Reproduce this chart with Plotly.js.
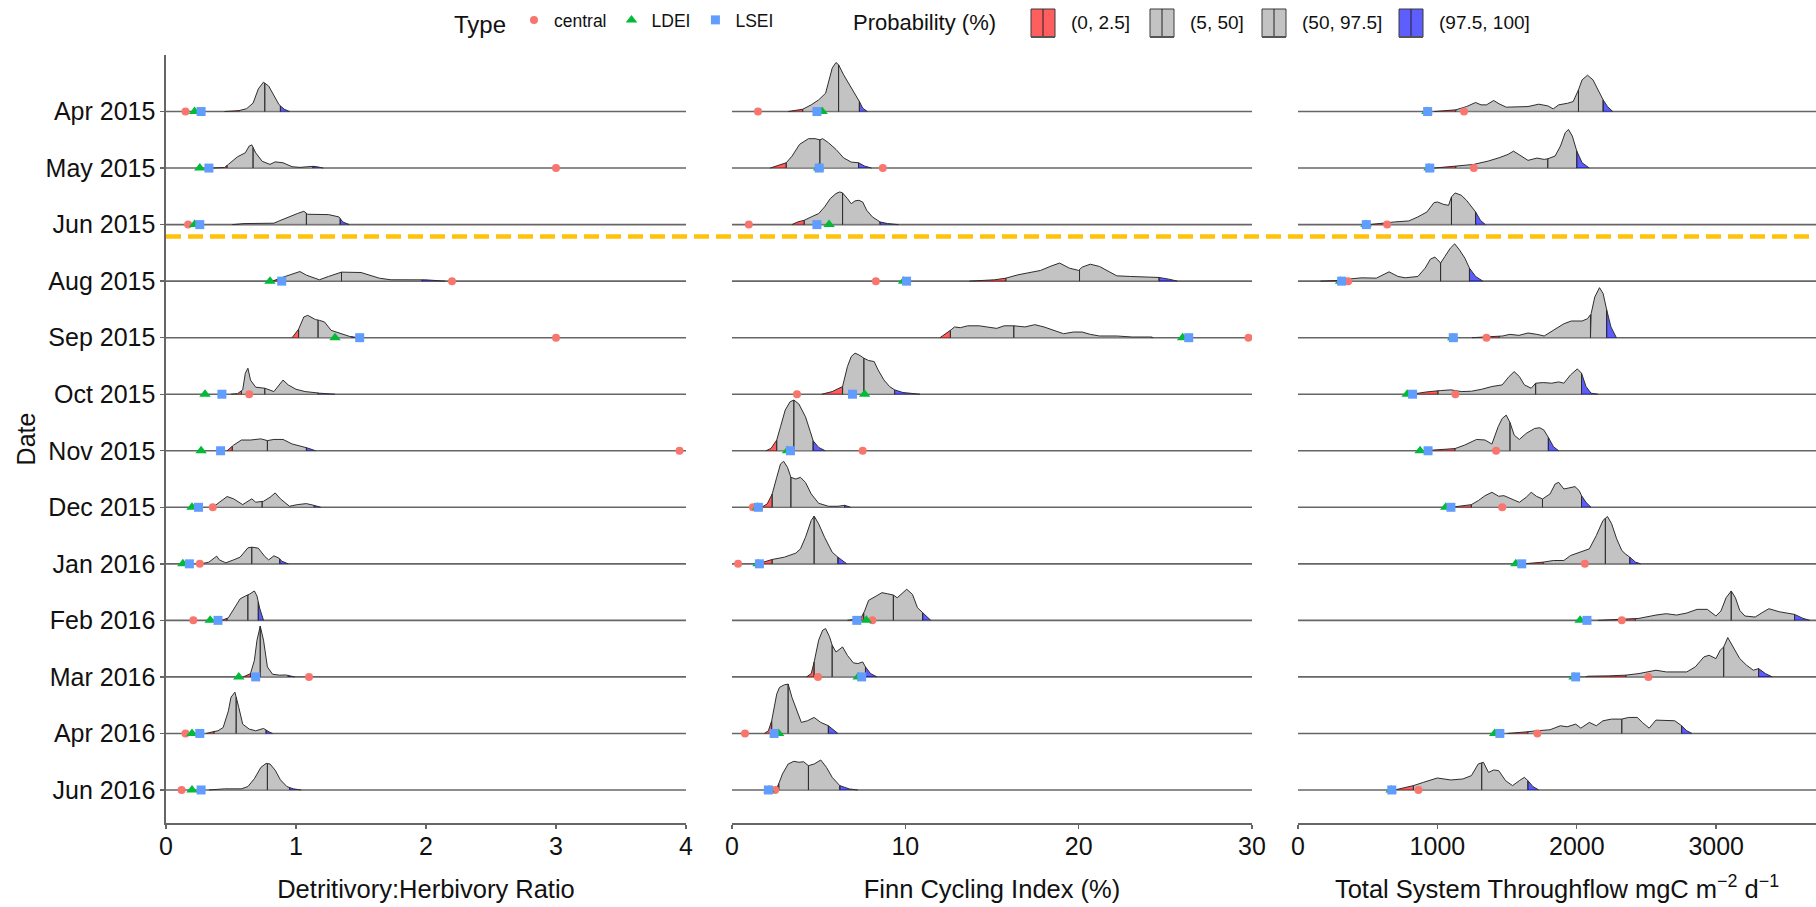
<!DOCTYPE html>
<html><head><meta charset="utf-8">
<script src="https://cdn.plot.ly/plotly-3.0.1.min.js"></script>
<style>html,body{margin:0;padding:0;background:#fff}</style>
</head><body><div id="chart" style="width:1816px;height:907px"></div>
<script>
// ---------- categories ----------
const dates = ['Apr 2015','May 2015','Jun 2015','Aug 2015','Sep 2015','Oct 2015','Nov 2015','Dec 2015','Jan 2016','Feb 2016','Mar 2016','Apr 2016','Jun 2016'];
const typeNames = ['central','LDEI','LSEI'];
const probNames = ['(0, 2.5]','(5, 50]','(50, 97.5]','(97.5, 100]'];
const gapLineY = 9.79; // sampling gap (no Jul 2015)

// ---------- Detritivory:Herbivory Ratio ----------
const dhrCentral = [0.15,3.0,0.17,2.2,3.0,0.64,3.95,0.36,0.26,0.21,1.10,0.15,0.12];
const dhrLDEI    = [0.22,0.26,0.22,0.80,1.30,0.30,0.27,0.20,0.13,0.34,0.56,0.20,0.20];
const dhrLSEI    = [0.27,0.33,0.26,0.89,1.49,0.43,0.42,0.25,0.18,0.40,0.69,0.26,0.27];
const dhrQuant = [[0.56,0.76,0.88],[0.47,0.67,1.13],[0.56,1.08,1.34],[0.86,1.35,1.97],[1.02,1.17,1.43],[0.58,0.76,1.17],[0.51,0.78,1.08],[0.38,0.74,1.14],[0.29,0.66,0.875],[0.47,0.63,0.71],[0.65,0.725,0.94],[0.37,0.54,0.77],[0.36,0.78,0.95]];
const dhrDensX = [
 [0.45,0.55,0.62,0.67,0.71,0.75,0.79,0.83,0.87,0.91,0.95],
 [0.35,0.45,0.48,0.55,0.61,0.64,0.66,0.69,0.74,0.80,0.84,0.90,0.97,1.03,1.11,1.16,1.21],
 [0.51,0.60,0.70,0.83,0.87,0.94,1.01,1.06,1.09,1.18,1.25,1.33,1.36,1.41],
 [0.80,0.83,0.90,0.97,1.03,1.08,1.18,1.25,1.34,1.50,1.57,1.64,1.73,1.90,1.99,2.11,2.15],
 [0.97,1.02,1.06,1.09,1.15,1.18,1.22,1.27,1.34,1.41,1.48],
 [0.50,0.55,0.59,0.61,0.63,0.65,0.69,0.76,0.83,0.87,0.90,0.94,1.00,1.07,1.15,1.18,1.30],
 [0.47,0.52,0.58,0.65,0.73,0.78,0.83,0.90,0.97,1.04,1.10,1.15],
 [0.36,0.40,0.47,0.52,0.59,0.66,0.69,0.75,0.80,0.84,0.88,0.95,1.01,1.08,1.13,1.19],
 [0.27,0.33,0.36,0.39,0.41,0.46,0.52,0.57,0.63,0.66,0.71,0.76,0.79,0.83,0.87,0.89,0.94],
 [0.43,0.48,0.53,0.57,0.61,0.64,0.68,0.70,0.72,0.75],
 [0.595,0.65,0.68,0.70,0.725,0.75,0.78,0.82,0.875,0.92,0.99],
 [0.31,0.36,0.40,0.44,0.48,0.50,0.53,0.56,0.59,0.64,0.69,0.75,0.80,0.82],
 [0.33,0.45,0.58,0.63,0.68,0.73,0.77,0.80,0.84,0.88,0.93,0.98,1.04]
];
const dhrDensH = [
 [0,0.01,0.05,0.15,0.40,0.52,0.45,0.28,0.12,0.04,0],
 [0,0.01,0.065,0.20,0.27,0.39,0.41,0.27,0.12,0.065,0.11,0.094,0.024,0.012,0.035,0.024,0],
 [0,0.018,0.018,0.025,0.065,0.136,0.195,0.236,0.183,0.177,0.177,0.136,0.047,0],
 [0,0.01,0.07,0.13,0.17,0.106,0.024,0.083,0.16,0.153,0.106,0.053,0.024,0.018,0.024,0.006,0],
 [0,0.15,0.366,0.395,0.32,0.307,0.277,0.13,0.07,0.024,0],
 [0,0.01,0.077,0.37,0.46,0.25,0.124,0.106,0.047,0.165,0.25,0.165,0.088,0.047,0.03,0.018,0],
 [0,0.10,0.19,0.19,0.21,0.18,0.20,0.20,0.12,0.083,0.04,0],
 [0,0.07,0.19,0.15,0.047,0.15,0.09,0.106,0.177,0.254,0.15,0.018,0.047,0.065,0.04,0],
 [0,0.03,0.09,0.136,0.07,0.018,0.07,0.118,0.283,0.295,0.277,0.13,0.07,0.142,0.10,0.047,0],
 [0,0.047,0.22,0.38,0.43,0.46,0.52,0.43,0.22,0],
 [0,0.059,0.295,0.65,0.897,0.65,0.177,0.047,0.03,0.035,0],
 [0,0.03,0.047,0.106,0.40,0.64,0.73,0.46,0.165,0.077,0.047,0.088,0.018,0],
 [0,0.02,0.02,0.06,0.2,0.4,0.47,0.46,0.35,0.18,0.06,0.02,0]
];

// ---------- Finn Cycling Index (%) ----------
const fciCentral = [1.5,8.7,0.97,8.3,29.8,3.75,7.54,1.21,0.35,8.1,4.96,0.75,2.49];
const fciLDEI    = [5.2,5.0,5.6,9.9,26.0,7.65,3.2,1.48,1.5,7.75,7.28,2.69,2.14];
const fciLSEI    = [4.9,5.03,4.9,10.07,26.35,6.95,3.37,1.52,1.58,7.2,7.48,2.43,2.1];
const fciQuant = [[4.08,6.15,7.35],[3.13,5.07,7.30],[4.17,6.38,8.54],[15.8,20.05,24.64],[12.6,16.26,24.2],[6.38,7.61,9.38],[2.58,3.57,4.68],[2.32,3.4,6.5],[2.32,4.74,6.11],[7.6,9.31,11.0],[4.74,5.78,7.7],[2.29,3.24,5.56],[2.7,4.41,6.22]];
const fciDensX = [
 [3.24,4.08,4.57,5.0,5.4,5.56,5.78,6.0,6.15,6.44,6.77,7.10,7.35,7.54,7.81],
 [2.2,2.58,3.13,3.46,3.9,4.41,4.79,5.07,5.23,5.56,6.0,6.44,6.88,7.30,7.65,8.05],
 [3.46,3.79,4.17,4.57,5.0,5.34,5.67,6.0,6.22,6.38,6.66,6.88,7.10,7.32,7.54,7.77,8.10,8.54,8.98,9.6],
 [13.7,14.5,15.15,15.8,16.5,17.1,17.8,18.35,18.9,19.46,20.0,20.2,20.67,21.2,21.77,22.2,23.0,23.76,24.64,25.2,25.7],
 [12.0,12.6,12.84,13.17,13.6,14.27,14.7,15.27,15.7,16.26,16.9,17.47,18.0,18.6,19.13,19.7,20.2,20.67,21.2,22.2,23.1,24.2,24.3],
 [5.18,5.78,6.38,6.66,6.88,7.10,7.32,7.61,7.88,8.2,8.43,8.76,9.09,9.38,9.86,10.85],
 [1.96,2.25,2.58,2.8,3.07,3.35,3.57,3.86,4.24,4.52,4.68,5.0,5.38],
 [1.7,2.03,2.32,2.58,2.8,2.98,3.2,3.4,3.68,3.95,4.24,4.57,5.0,5.56,6.11,6.5,6.84],
 [1.48,1.81,2.32,3.02,3.68,3.95,4.24,4.57,4.74,5.0,5.34,5.78,6.11,6.62],
 [6.66,7.0,7.43,7.65,7.88,8.32,8.65,8.98,9.31,9.53,9.75,10.08,10.41,10.7,11.0,11.47],
 [4.3,4.57,4.74,5.0,5.23,5.4,5.63,5.78,6.0,6.15,6.38,6.66,7.0,7.26,7.54,7.7,7.99,8.36],
 [1.87,2.1,2.29,2.58,2.74,3.02,3.24,3.46,3.79,4.0,4.35,4.74,5.12,5.56,6.11],
 [1.92,2.54,2.69,2.91,3.24,3.57,3.86,4.13,4.41,4.74,5.12,5.45,5.78,6.22,6.77,7.26]
];
const fciDensH = [
 [0,0.041,0.118,0.206,0.324,0.50,0.767,0.867,0.826,0.649,0.472,0.295,0.177,0.059,0],
 [0,0.035,0.094,0.21,0.42,0.52,0.52,0.50,0.52,0.45,0.33,0.18,0.106,0.094,0.035,0],
 [0,0.047,0.077,0.136,0.195,0.313,0.46,0.55,0.578,0.56,0.46,0.37,0.42,0.43,0.40,0.254,0.136,0.047,0.018,0],
 [0,0.012,0.024,0.053,0.112,0.142,0.189,0.26,0.32,0.23,0.19,0.248,0.30,0.26,0.17,0.094,0.083,0.071,0.065,0.035,0],
 [0,0.13,0.19,0.177,0.21,0.21,0.19,0.165,0.21,0.21,0.19,0.23,0.19,0.13,0.07,0.10,0.10,0.059,0.03,0.03,0.012,0.012,0],
 [0,0.047,0.136,0.49,0.667,0.726,0.696,0.637,0.596,0.578,0.43,0.254,0.136,0.077,0.03,0],
 [0,0.041,0.19,0.425,0.72,0.867,0.897,0.826,0.60,0.336,0.177,0.059,0],
 [0,0.059,0.236,0.53,0.767,0.814,0.708,0.53,0.50,0.53,0.44,0.236,0.071,0.018,0.018,0.035,0],
 [0,0.03,0.077,0.118,0.189,0.265,0.47,0.767,0.844,0.708,0.47,0.206,0.118,0],
 [0,0.012,0.035,0.165,0.354,0.43,0.49,0.47,0.448,0.40,0.46,0.55,0.46,0.224,0.136,0],
 [0,0.059,0.265,0.65,0.826,0.855,0.708,0.56,0.44,0.47,0.53,0.38,0.248,0.236,0.265,0.177,0.059,0],
 [0,0.047,0.224,0.696,0.814,0.86,0.873,0.637,0.342,0.195,0.224,0.283,0.195,0.136,0],
 [0,0.01,0.106,0.283,0.46,0.507,0.49,0.50,0.43,0.46,0.53,0.40,0.224,0.077,0.018,0]
];

// ---------- Total System Throughflow ----------
const tstCentral = [1191,1261,640,360,1352,1129,1421,1465,2058,2323,2514,1717,864];
const tstLDEI    = [925,940,488,305,1110,783,876,1060,1563,2024,1980,1411,668];
const tstLSEI    = [930,945,490,313,1114,822,933,1097,1605,2073,1992,1448,673];
const tstQuant = [[1132,2012,2189],[1132,1792,2000],[640,1101,1274],[290,1023,1230],[1443,2098,2214],[1004,1705,2034],[1126,1521,1796],[1244,1754,2034],[1759,2205,2380],[2420,3108,3562],[2353,3054,3304],[1649,2323,2752],[828,1318,1649]];
const tstDensX = [
 [976,1132,1209,1274,1313,1352,1404,1443,1494,1572,1650,1727,1792,1831,1870,1935,1974,2012,2038,2077,2116,2155,2189,2220,2258],
 [976,1054,1132,1261,1365,1443,1507,1546,1585,1650,1714,1766,1792,1844,1883,1917,1940,1968,2000,2038,2090],
 [510,588,692,795,860,925,976,1002,1041,1080,1101,1127,1171,1209,1248,1274,1308,1344],
 [161,290,355,458,562,653,717,769,860,912,950,982,1002,1023,1054,1093,1124,1158,1197,1230,1274,1326],
 [1248,1339,1468,1520,1585,1650,1714,1766,1831,1909,1961,2038,2077,2103,2129,2163,2189,2214,2245,2284],
 [815,852,925,1024,1097,1171,1244,1318,1391,1465,1514,1551,1588,1624,1673,1705,1759,1820,1870,1907,1955,2004,2034,2066,2102,2152],
 [896,974,1122,1195,1281,1342,1391,1436,1465,1494,1519,1551,1588,1637,1698,1735,1764,1796,1833,1870],
 [1097,1146,1244,1293,1342,1391,1440,1477,1538,1588,1637,1673,1710,1754,1808,1845,1870,1907,1943,1987,2017,2034,2066,2102],
 [1617,1661,1759,1833,1907,1955,2029,2090,2140,2188,2220,2250,2286,2323,2348,2380,2421,2458],
 [2152,2323,2446,2519,2568,2642,2716,2789,2863,2936,2998,3034,3071,3108,3138,3169,3206,3280,3329,3378,3452,3525,3562,3623,3672],
 [2066,2078,2225,2348,2446,2519,2568,2642,2716,2789,2850,2912,2949,2998,3029,3054,3083,3120,3169,3218,3267,3304,3353,3402],
 [1502,1588,1710,1808,1882,1931,1992,2029,2090,2140,2188,2250,2323,2372,2434,2470,2519,2568,2642,2703,2752,2789,2826],
 [693,828,901,999,1097,1183,1244,1293,1330,1367,1404,1440,1489,1539,1588,1624,1649,1686,1727]
];
const tstDensH = [
 [0,0.03,0.088,0.16,0.118,0.118,0.195,0.136,0.077,0.077,0.088,0.13,0.10,0.047,0.118,0.147,0.177,0.383,0.56,0.643,0.56,0.383,0.206,0.088,0],
 [0,0.024,0.035,0.065,0.124,0.183,0.242,0.30,0.242,0.136,0.177,0.153,0.165,0.212,0.39,0.625,0.684,0.566,0.30,0.094,0],
 [0,0.018,0.047,0.065,0.136,0.224,0.39,0.40,0.36,0.34,0.49,0.56,0.52,0.43,0.313,0.224,0.077,0],
 [0,0.012,0.035,0.059,0.053,0.165,0.083,0.059,0.083,0.23,0.39,0.425,0.378,0.32,0.437,0.584,0.66,0.555,0.407,0.23,0.083,0],
 [0,0.012,0.03,0.059,0.041,0.083,0.059,0.03,0.13,0.248,0.295,0.295,0.336,0.425,0.72,0.885,0.78,0.496,0.19,0],
 [0,0.018,0.041,0.065,0.077,0.047,0.053,0.088,0.136,0.165,0.313,0.40,0.313,0.165,0.106,0.195,0.206,0.195,0.218,0.195,0.342,0.448,0.372,0.136,0.018,0],
 [0,0.012,0.035,0.10,0.20,0.19,0.118,0.425,0.572,0.63,0.513,0.277,0.20,0.307,0.395,0.407,0.366,0.236,0.07,0],
 [0,0.018,0.047,0.118,0.206,0.265,0.195,0.206,0.147,0.088,0.177,0.265,0.195,0.147,0.236,0.413,0.442,0.324,0.342,0.366,0.295,0.206,0.088,0],
 [0,0.012,0.03,0.059,0.059,0.147,0.206,0.265,0.50,0.767,0.838,0.708,0.442,0.236,0.177,0.118,0.03,0],
 [0,0.018,0.035,0.077,0.094,0.118,0.094,0.13,0.195,0.195,0.077,0.165,0.40,0.52,0.40,0.177,0.077,0.059,0.136,0.206,0.153,0.118,0.106,0.035,0],
 [0,0.012,0.018,0.03,0.059,0.088,0.118,0.088,0.088,0.088,0.177,0.354,0.383,0.324,0.472,0.53,0.696,0.53,0.324,0.206,0.118,0.147,0.059,0],
 [0,0.012,0.047,0.065,0.136,0.118,0.165,0.094,0.195,0.136,0.224,0.254,0.254,0.283,0.283,0.195,0.094,0.236,0.236,0.224,0.136,0.047,0],
 [0,0.077,0.136,0.212,0.177,0.195,0.254,0.46,0.49,0.31,0.354,0.342,0.165,0.077,0.165,0.224,0.165,0.059,0]
];

// ---------- panel settings (layout only) ----------
const panelTitles = ['Detritivory:Herbivory Ratio','Finn Cycling Index (%)','Total System Throughflow mgC m<sup>\u22122</sup> d<sup>\u22121</sup>'];
const panelRanges = [[0,4],[0,30],[0,3716]];
const panelTicks = [[0,1,2,3,4],[0,10,20,30],[0,1000,2000,3000]];
const panelDomains = [[0,0.31515],[0.34303,0.65818],[0.68606,1]];

const fillColors = ['rgba(255,0,0,0.63)','rgba(160,160,160,0.63)','rgba(160,160,160,0.63)','rgba(0,0,255,0.63)'];
const pointColors = ['#F8766D','#00BA38','#619CFF'];
const pointSymbols = ['circle','triangle-up','square'];
const pointSizes = [8,10,9];
const FONT = 'Liberation Sans, Arial, sans-serif';
const MARGIN = {l:166,r:0,t:55,b:84};
const PLOT_W = 1816 - MARGIN.l - MARGIN.r, PLOT_H = 907 - MARGIN.t - MARGIN.b;
// manual legend for the probability fills (pixel positions of keys/labels)
const probTitleLeftPx = 851;
const probKeyLeftPx = [1031,1150,1262,1399];
const keyW = 24, keyTop = 9, keyBot = 37, legendMidPx = 23;

function interp(x, X, H){
  if (x <= X[0]) return H[0];
  const n = X.length;
  if (x >= X[n-1]) return H[n-1];
  for (let k=1;k<n;k++){ if (x <= X[k]){ const t=(x-X[k-1])/(X[k]-X[k-1]); return H[k-1]+t*(H[k]-H[k-1]); } }
  return 0;
}
function pushSeg(X, H, a, b, base, ox, oy){
  ox.push(a); oy.push(base);
  ox.push(a); oy.push(base+interp(a,X,H));
  for (let k=0;k<X.length;k++){ if (X[k]>a && X[k]<b){ ox.push(X[k]); oy.push(base+H[k]); } }
  ox.push(b); oy.push(base+interp(b,X,H));
  ox.push(b); oy.push(base);
  ox.push(null); oy.push(null);
}

const nRows = dates.length;
const rowBase = dates.map((d,i)=> nRows-1-i);
const panels = [
  {X:dhrDensX,H:dhrDensH,Q:dhrQuant,pts:[dhrCentral,dhrLDEI,dhrLSEI]},
  {X:fciDensX,H:fciDensH,Q:fciQuant,pts:[fciCentral,fciLDEI,fciLSEI]},
  {X:tstDensX,H:tstDensH,Q:tstQuant,pts:[tstCentral,tstLDEI,tstLSEI]}
];

const traces = [];
panels.forEach((p,pi)=>{
  const xa = pi===0 ? 'x' : 'x'+(pi+1);
  const bx=[], by=[];
  rowBase.forEach(b=>{ bx.push(panelRanges[pi][0], panelRanges[pi][1], null); by.push(b,b,null); });
  traces.push({type:'scatter',mode:'lines',x:bx,y:by,xaxis:xa,yaxis:'y',line:{color:'#666666',width:1.6},showlegend:false,hoverinfo:'skip'});
});
panels.forEach((p,pi)=>{
  const xa = pi===0 ? 'x' : 'x'+(pi+1);
  const segs = [0,1,2,3].map(()=>({x:[],y:[]}));
  for (let r=0;r<nRows;r++){
    const X=p.X[r], H=p.H[r], q=p.Q[r], base=rowBase[r];
    const bounds=[X[0], q[0], q[1], q[2], X[X.length-1]];
    for (let s=0;s<4;s++) pushSeg(X,H,bounds[s],bounds[s+1],base,segs[s].x,segs[s].y);
  }
  segs.forEach((sg,s)=>{
    traces.push({type:'scatter',mode:'lines',x:sg.x,y:sg.y,xaxis:xa,yaxis:'y',fill:'toself',
      fillcolor:fillColors[s],line:{color:'#2e2e2e',width:1},name:probNames[s],
      showlegend:false,hoverinfo:'skip'});
  });
});
panels.forEach((p,pi)=>{
  const xa = pi===0 ? 'x' : 'x'+(pi+1);
  p.pts.forEach((vals,t)=>{
    traces.push({type:'scatter',mode:'markers',x:vals,y:rowBase,xaxis:xa,yaxis:'y',name:typeNames[t],
      marker:{color:pointColors[t],symbol:pointSymbols[t],size:pointSizes[t],line:{width:0}},
      legend:'legend',legendrank:t,showlegend:pi===0,hoverinfo:'skip'});
  });
});

function xAxis(pi){
  return {domain:panelDomains[pi],range:panelRanges[pi],anchor:'y',autorange:false,
    tickmode:'array',tickvals:panelTicks[pi],ticks:'outside',ticklen:4,tickwidth:1.4,tickcolor:'#666666',
    ticklabelstandoff:-4,
    showline:true,linecolor:'#666666',linewidth:1.6,showgrid:false,zeroline:false,automargin:false,
    tickfont:{family:FONT,size:25,color:'#111'},
    title:{text:panelTitles[pi],font:{family:FONT,size:25.5,color:'#111'},standoff:21}};
}

const px2x = v => (v - MARGIN.l)/PLOT_W;
const py2y = v => 1 + (MARGIN.t - v)/PLOT_H;

const shapes = [{type:'line',xref:'paper',yref:'y',x0:0,x1:1,y0:gapLineY,y1:gapLineY,layer:'above',
    line:{color:'#FFC20A',width:4.5,dash:'15px,7px'}}];
const annotations = [{xref:'paper',yref:'paper',x:px2x(probTitleLeftPx),y:py2y(legendMidPx),xanchor:'left',yanchor:'middle',
    text:'Probability (%)',showarrow:false,font:{family:FONT,size:22,color:'#111'}}];
probNames.forEach((nm,s)=>{
  const l = probKeyLeftPx[s];
  shapes.push({type:'rect',xref:'paper',yref:'paper',x0:px2x(l),x1:px2x(l+keyW),y0:py2y(keyBot),y1:py2y(keyTop),
    fillcolor:fillColors[s],line:{color:'#3a3a3a',width:1}});
  shapes.push({type:'line',xref:'paper',yref:'paper',x0:px2x(l+keyW/2),x1:px2x(l+keyW/2),y0:py2y(keyBot),y1:py2y(keyTop),
    line:{color:'#222',width:1}});
  shapes.push({type:'line',xref:'paper',yref:'paper',x0:px2x(l),x1:px2x(l+keyW),y0:py2y(keyBot),y1:py2y(keyBot),
    line:{color:'#555',width:2}});
  annotations.push({xref:'paper',yref:'paper',x:px2x(l+keyW+14),y:py2y(legendMidPx),xanchor:'left',yanchor:'middle',
    text:nm,showarrow:false,font:{family:FONT,size:19,color:'#111'}});
});

const layout = {
  width:1816,height:907,paper_bgcolor:'#fff',plot_bgcolor:'#fff',
  margin:MARGIN,
  hovermode:false,
  font:{family:FONT,color:'#111'},
  xaxis:xAxis(0), xaxis2:xAxis(1), xaxis3:xAxis(2),
  yaxis:{domain:[0,1],range:[-0.584,13.0],autorange:false,anchor:'x',
    tickmode:'array',tickvals:rowBase,ticktext:dates,ticks:'outside',ticklen:4,tickwidth:1.4,tickcolor:'#666666',
    showline:true,linecolor:'#666666',linewidth:1.6,showgrid:false,zeroline:false,automargin:false,
    tickfont:{family:FONT,size:25,color:'#111'},
    title:{text:'Date',font:{family:FONT,size:25,color:'#111'},standoff:3}},
  legend:{orientation:'h',x:0.1733,xanchor:'left',y:py2y(legendMidPx),yanchor:'middle',bgcolor:'rgba(0,0,0,0)',
    title:{text:'Type',font:{family:FONT,size:24,color:'#111'},side:'left'},
    font:{family:FONT,size:17.5,color:'#111'},traceorder:'normal',itemclick:false},
  shapes:shapes,
  annotations:annotations
};

Plotly.newPlot('chart',traces,layout,{displayModeBar:false,staticPlot:true});
</script>
</body></html>
